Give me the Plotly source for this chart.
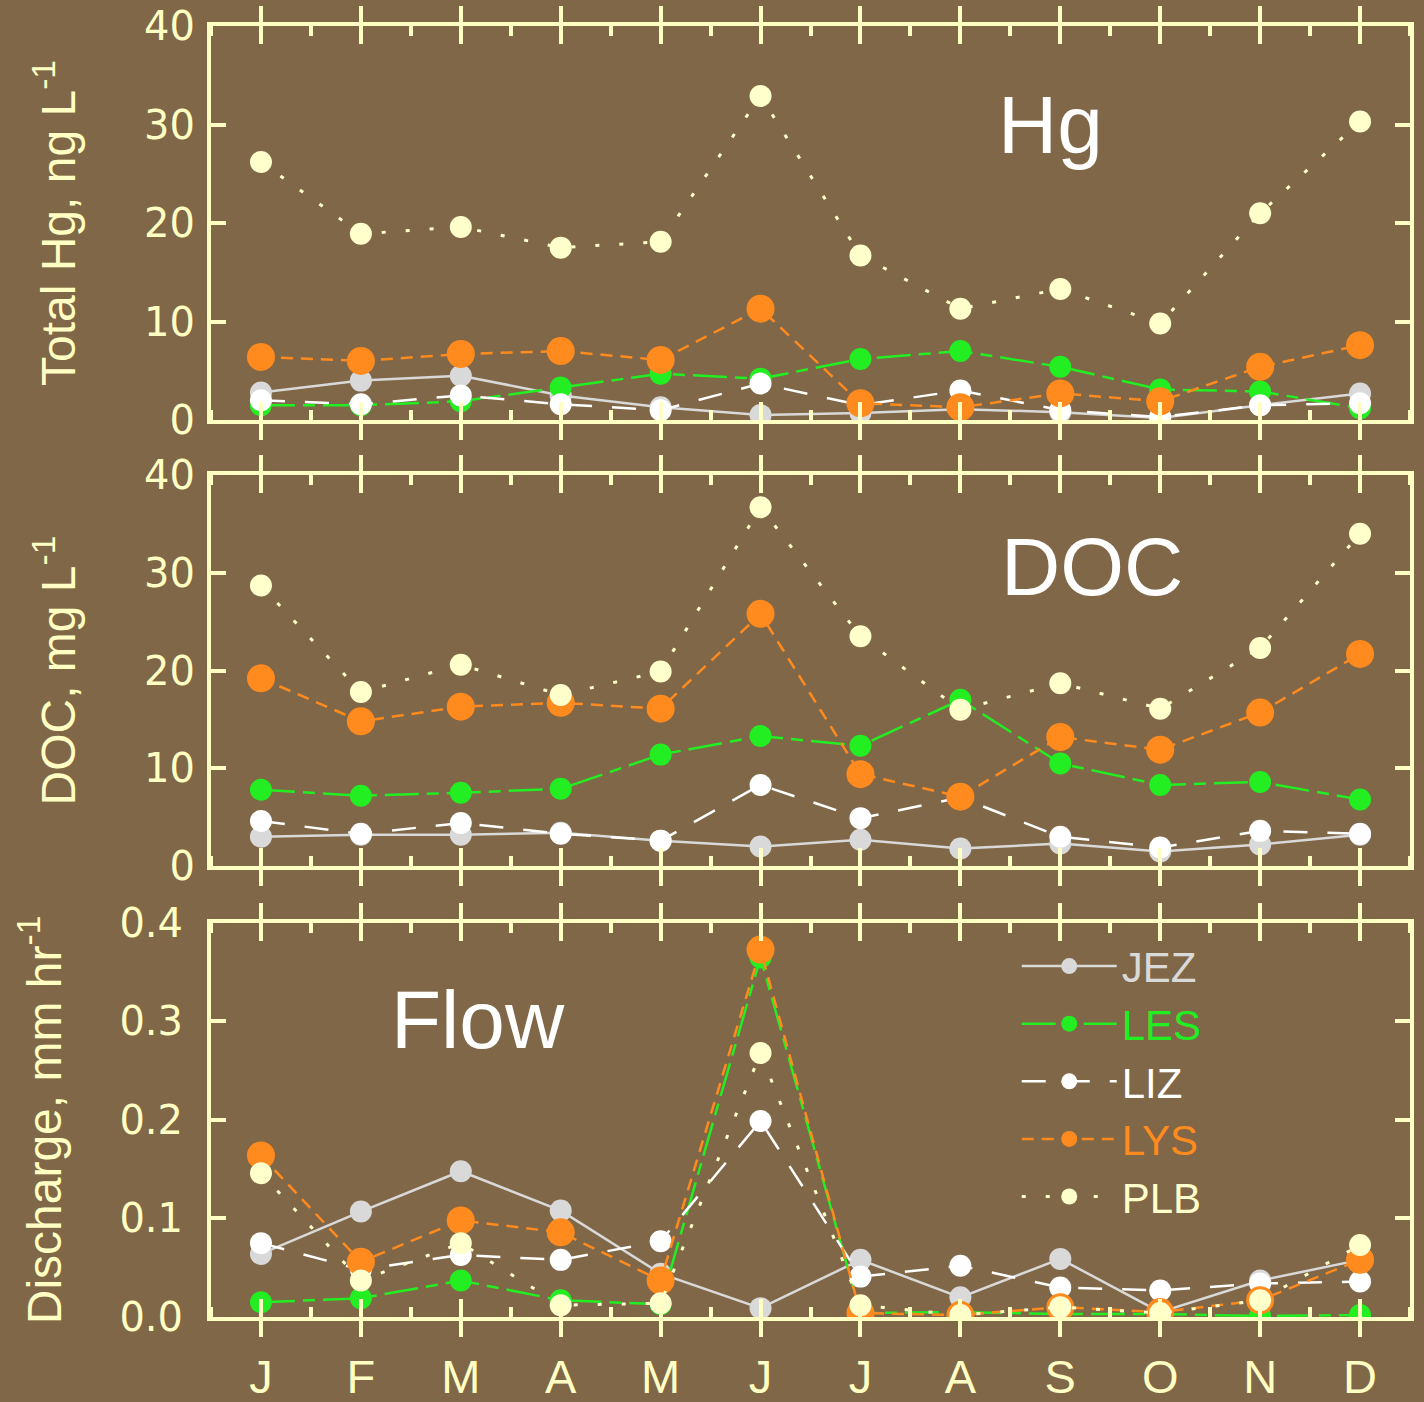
import plotly.graph_objects as go

# ---------------- data ----------------
months = ["J", "F", "M", "A", "M", "J", "J", "A", "S", "O", "N", "D"]
month_pos = list(range(len(months)))
stations = ["JEZ", "LES", "LIZ", "LYS", "PLB"]

hg_jez = [2.8, 4.0, 4.5, 2.5, 1.3, 0.5, 0.7, 1.1, 0.8, 0.2, 1.5, 2.7]
hg_les = [1.5, 1.5, 1.9, 3.3, 4.7, 4.2, 6.2, 7.0, 5.4, 3.1, 2.9, 1.2]
hg_liz = [2.0, 1.6, 2.5, 1.6, 1.0, 3.7, 1.5, 3.0, 1.0, 0.3, 1.5, 1.7]
hg_lys = [6.4, 6.0, 6.7, 7.0, 6.1, 11.3, 1.7, 1.3, 2.7, 1.9, 5.4, 7.6]
hg_plb = [26.2, 18.9, 19.6, 17.5, 18.1, 32.9, 16.7, 11.3, 13.3, 9.8, 21.0, 30.3]

doc_jez = [3.0, 3.2, 3.2, 3.4, 2.6, 2.0, 2.7, 1.8, 2.3, 1.5, 2.2, 3.2]
doc_les = [7.8, 7.2, 7.5, 7.9, 11.4, 13.3, 12.3, 17.0, 10.5, 8.3, 8.6, 6.8]
doc_liz = [4.6, 3.3, 4.4, 3.3, 2.6, 8.3, 4.9, 7.0, 3.0, 1.9, 3.6, 3.3]
doc_lys = [19.2, 14.8, 16.3, 16.7, 16.1, 25.8, 9.4, 7.1, 13.2, 11.9, 15.7, 21.7]
doc_plb = [28.7, 17.8, 20.6, 17.5, 19.9, 36.7, 23.5, 16.0, 18.7, 16.1, 22.3, 34.0]

q_jez = [0.064, 0.107, 0.148, 0.108, 0.044, 0.009, 0.058, 0.020, 0.059, 0.005, 0.037, 0.058]
q_les = [0.015, 0.019, 0.037, 0.017, 0.013, 0.365, 0.004, 0.005, 0.003, 0.003, 0.001, 0.002]
q_liz = [0.075, 0.048, 0.063, 0.058, 0.077, 0.199, 0.041, 0.052, 0.030, 0.027, 0.034, 0.036]
q_lys = [0.164, 0.056, 0.098, 0.086, 0.037, 0.373, 0.004, 0.002, 0.010, 0.005, 0.017, 0.058]
q_plb = [0.146, 0.037, 0.075, 0.012, 0.014, 0.268, 0.012, 0.002, 0.010, 0.004, 0.017, 0.073]

hg_tick_vals = [0, 10, 20, 30, 40]
doc_tick_vals = [0, 10, 20, 30, 40]
q_tick_vals = [0.0, 0.1, 0.2, 0.3, 0.4]
q_tick_text = ["0.0", "0.1", "0.2", "0.3", "0.4"]

panels = [
    dict(series=[hg_jez, hg_les, hg_liz, hg_lys, hg_plb], label="Hg",
         title="Total Hg, ng L<sup>-1</sup>", yr=[0, 40], tv=hg_tick_vals, tt=None),
    dict(series=[doc_jez, doc_les, doc_liz, doc_lys, doc_plb], label="DOC",
         title="DOC, mg L<sup>-1</sup>", yr=[0, 40], tv=doc_tick_vals, tt=None),
    dict(series=[q_jez, q_les, q_liz, q_lys, q_plb], label="Flow",
         title="Discharge, mm hr<sup>-1</sup>", yr=[0, 0.4], tv=q_tick_vals, tt=q_tick_text),
]

# ---------------- style ----------------
BG = "#806747"
FR = "#FFFFC4"
colors = ["#D9D9D9", "#22EE22", "#FFFFFF", "#FF8A1E", "#FFFFCC"]
dashes = ["solid", "34px,8px,12px,8px", "24px,20px", "12px,8px", "4px,20px"]
widths = [2.5, 2.5, 2.5, 2.5, 3]
msizes = [22, 22, 22, 28, 22]
ARIAL = "Liberation Sans, Arial, sans-serif"
TICKF = "DejaVu Sans, Verdana, sans-serif"

domains = [[0.6948, 1.0], [0.3493, 0.6522], [0.0, 0.3052]]
label_pos = [(0.70, 0.75), (0.735, 0.765), (0.223, 0.755)]
ylab_standoff = [4, 4, 16]
ytitle_standoff = [54, 54, 44]

fig = go.Figure()

for p, panel in enumerate(panels):
    k = "" if p == 0 else str(p + 1)
    ya = "y" + k
    for s, name in enumerate(stations):
        # first two stations on the base x axis, the rest on the overlaying
        # tick axis (so that both axes are drawn)
        xa = ("x" + k) if s < 2 else f"x{p+4}"
        fig.add_trace(go.Scatter(
            x=month_pos, y=panel["series"][s], xaxis=xa, yaxis=ya,
            mode="lines+markers",
            name=f'<span style="color:{colors[s]}">{name}</span>',
            legendgroup=name, showlegend=(p == 2),
            line=dict(color=colors[s], width=widths[s], dash=dashes[s]),
            marker=dict(color=colors[s], size=msizes[s], line=dict(width=0)),
        ))

layout = dict(
    width=1424, height=1402,
    margin=dict(l=211, r=14, t=26, b=85),
    paper_bgcolor=BG, plot_bgcolor=BG,
    showlegend=True,
    legend=dict(x=0.672, y=0.298, xanchor="left", yanchor="top",
                bgcolor="rgba(0,0,0,0)", font=dict(family=ARIAL, size=42, color=FR),
                itemwidth=95, tracegroupgap=0),
    annotations=[],
)

for p, panel in enumerate(panels):
    k = "" if p == 0 else str(p + 1)
    ya = "y" + k
    xa = "x" + k
    layout["xaxis" + k] = dict(
        domain=[0, 1], anchor=ya, range=[-0.5, 11.5], automargin=False,
        tickmode="array", tickvals=month_pos, ticktext=months,
        ticks="outside", ticklen=16, tickwidth=4, tickcolor=FR,
        showline=True, linecolor=FR, linewidth=4, mirror="ticks",
        showgrid=False, zeroline=False,
        showticklabels=(p == 2),
        tickfont=dict(family=ARIAL, size=47, color=FR),
        ticklabelstandoff=0,
        minor=dict(ticks="inside", ticklen=10, tickwidth=4, tickcolor=FR,
                   tickmode="linear", tick0=0.5, dtick=1, showgrid=False),
    )
    layout["xaxis" + str(p + 4)] = dict(
        overlaying=xa, anchor=ya, range=[-0.5, 11.5], automargin=False,
        tickmode="array", tickvals=month_pos,
        ticks="inside", ticklen=18, tickwidth=4, tickcolor=FR,
        showline=True, linecolor=FR, linewidth=4, mirror="ticks",
        showgrid=False, zeroline=False, showticklabels=False,
    )
    ydict = dict(
        domain=domains[p], anchor=xa, range=panel["yr"], automargin=False,
        tickmode="array", tickvals=panel["tv"],
        ticks="inside", ticklen=15, tickwidth=4, tickcolor=FR,
        showline=True, linecolor=FR, linewidth=4, mirror="ticks",
        showgrid=False, zeroline=False,
        tickfont=dict(family=TICKF, size=40, color=FR),
        ticklabelstandoff=ylab_standoff[p],
        title=dict(text=panel["title"], font=dict(family=ARIAL, size=48, color=FR),
                   standoff=ytitle_standoff[p]),
    )
    if panel["tt"] is not None:
        ydict["ticktext"] = panel["tt"]
    layout["yaxis" + k] = ydict
    lx, ly = label_pos[p]
    layout["annotations"].append(dict(
        text=panel["label"], x=lx, y=ly, xref=f"{xa} domain", yref=f"{ya} domain",
        showarrow=False, xanchor="center", yanchor="middle",
        font=dict(family=ARIAL, size=82, color="#FFFFFF"),
    ))

fig.update_layout(**layout)
fig.write_html("out.html")
